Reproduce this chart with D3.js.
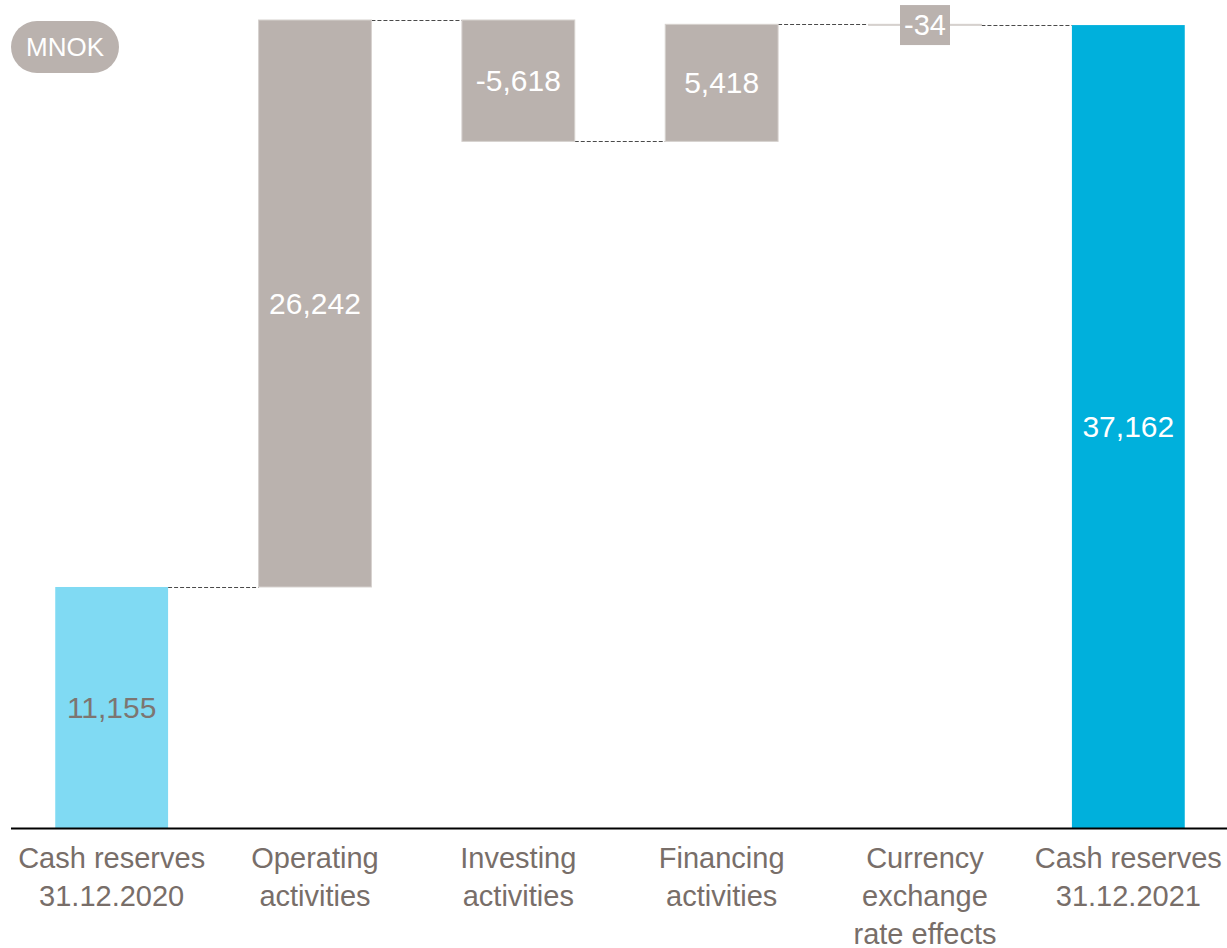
<!DOCTYPE html>
<html><head><meta charset="utf-8">
<script src="https://cdn.jsdelivr.net/npm/d3@7"></script>
<style>body{margin:0;background:#fff}svg{display:block}text{font-family:"Liberation Sans",Arial,sans-serif}</style>
</head><body>
<svg id="c" width="1227" height="948"></svg>
<script>
const categories = [["Cash reserves","31.12.2020"],["Operating","activities"],["Investing","activities"],["Financing","activities"],["Currency","exchange","rate effects"],["Cash reserves","31.12.2021"]];
const values = [11155, 26242, -5618, 5418, -34, 37162];
const kinds = ["total0","delta","delta","delta","delta","total"];
const valueLabels = ["11,155","26,242","-5,618","5,418","-34","37,162"];
const unitLabel = "MNOK";

const svg = d3.select("#c");
const x = d3.scaleBand().domain(d3.range(values.length)).range([10,1230]).paddingInner(0.445).paddingOuter(0.2225);
const y = d3.scaleLinear().domain([0, 37397]).range([828, 20]);

let run = 0; const bars = [];
values.forEach((v,i)=>{
  if(kinds[i]!=="delta"){ bars.push({i,y0:0,y1:v,v}); run=v; }
  else { bars.push({i,y0:run,y1:run+v,v}); run+=v; }
});
const fills = {total0:"#80daf3", delta:"#bab2ae", total:"#00b0dc"};

for(let k=0;k<bars.length-1;k++){
  const b=bars[k], lvl=b.y1;
  svg.append("line").attr("x1",x(b.i)+x.bandwidth()).attr("x2",x(bars[k+1].i))
    .attr("y1",Math.round(y(lvl))+0.5).attr("y2",Math.round(y(lvl))+0.5)
    .attr("stroke","#4a4a4a").attr("stroke-width",1).attr("stroke-dasharray","4,2");
}

svg.selectAll("rect.bar").data(bars).join("rect").attr("class","bar")
  .attr("x",d=>x(d.i)).attr("width",x.bandwidth())
  .attr("y",d=>y(Math.max(d.y0,d.y1))).attr("height",d=>Math.max(1,Math.abs(y(d.y0)-y(d.y1))))
  .attr("fill",d=>fills[kinds[d.i]])
  .attr("stroke",d=>kinds[d.i]==="delta"?"#d6d1ce":"none").attr("stroke-width",1);

bars.forEach((d,k)=>{
  const cx = x(d.i)+x.bandwidth()/2;
  if(Math.abs(y(d.y0)-y(d.y1))<40){
    const w=50, h=40, top=y(d.y1)-20;
    svg.append("rect").attr("x",cx-w/2).attr("y",top).attr("width",w).attr("height",h).attr("fill","#bab2ae");
    svg.append("text").attr("x",cx).attr("y",top+h/2).attr("dy","0.35em").attr("text-anchor","middle")
      .attr("fill","#fff").attr("font-size",29).text(valueLabels[k]);
  } else {
    const cy=(y(d.y0)+y(d.y1))/2;
    svg.append("text").attr("x",cx).attr("y",cy).attr("dy","0.35em").attr("text-anchor","middle")
      .attr("fill",kinds[d.i]==="total0"?"#7d7571":"#fff").attr("font-size",30).text(valueLabels[k]);
  }
});

svg.append("line").attr("x1",11).attr("x2",1227).attr("y1",y(0)+0.5).attr("y2",y(0)+0.5).attr("stroke","#000").attr("stroke-width",2);

categories.forEach((lines,i)=>{
  const t=svg.append("text").attr("text-anchor","middle").attr("fill","#786e69").attr("font-size",29);
  lines.forEach((s,j)=>t.append("tspan").attr("x",x(i)+x.bandwidth()/2).attr("y",868+j*38).text(s));
});

svg.append("rect").attr("x",11).attr("y",21).attr("width",108).attr("height",52).attr("rx",26).attr("fill","#bab2ae");
svg.append("text").attr("x",65).attr("y",47).attr("dy","0.35em").attr("text-anchor","middle").attr("fill","#fff").attr("font-size",26).text(unitLabel);
</script>
</body></html>
